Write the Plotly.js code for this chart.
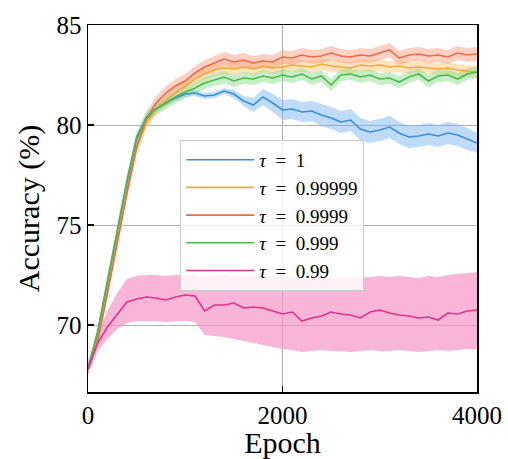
<!DOCTYPE html>
<html>
<head>
<meta charset="utf-8">
<script src="https://cdn.plot.ly/plotly-3.0.1.min.js"></script>
<style>html,body{margin:0;padding:0;background:#fff;}#chart{width:508px;height:459px;}</style>
</head>
<body>
<div id="chart"></div>
<script>
const epochs = [0,100,200,300,400,500,600,700,800,900,1000,1100,1200,1300,1400,1500,1600,1700,1800,1900,2000,2100,2200,2300,2400,2500,2600,2700,2800,2900,3000,3100,3200,3300,3400,3500,3600,3700,3800,3900,4000];

const seriesNames = ["<i>τ</i>\u2002=\u20021", "<i>τ</i>\u2002=\u20020.99999", "<i>τ</i>\u2002=\u20020.9999", "<i>τ</i>\u2002=\u20020.999", "<i>τ</i>\u2002=\u20020.99"];

const tau1 = [67.8,69.6,72.1,74.6,77.1,79.3,80.3,80.8,81.1,81.35,81.55,81.6,81.45,81.5,81.7,81.55,81.2,81.0,81.4,81.1,80.75,80.8,80.65,80.7,80.5,80.35,80.15,80.25,79.8,79.65,79.75,79.9,79.6,79.4,79.45,79.55,79.45,79.6,79.5,79.3,79.1];
const tau1Std = [0.15,0.15,0.15,0.15,0.15,0.15,0.15,0.15,0.15,0.15,0.15,0.15,0.15,0.15,0.15,0.2,0.25,0.35,0.4,0.45,0.5,0.5,0.5,0.5,0.55,0.55,0.55,0.55,0.55,0.55,0.55,0.55,0.55,0.55,0.55,0.55,0.55,0.55,0.55,0.55,0.5];

const tau99999 = [67.8,69.3,71.7,74.2,76.7,78.9,80.1,80.8,81.2,81.6,81.95,82.3,82.55,82.75,82.85,82.8,82.9,82.8,82.95,82.85,82.9,83.0,82.95,82.9,83.05,82.95,82.9,82.85,83.0,82.95,83.0,82.9,82.95,82.85,82.9,82.85,82.8,82.85,82.75,82.7,82.65];
const tau99999Std = [0.2,0.25,0.3,0.3,0.3,0.3,0.3,0.3,0.3,0.3,0.3,0.3,0.3,0.3,0.3,0.3,0.3,0.3,0.3,0.3,0.3,0.3,0.3,0.3,0.3,0.3,0.3,0.3,0.3,0.3,0.3,0.3,0.3,0.3,0.3,0.3,0.3,0.3,0.3,0.3,0.3];

const tau9999 = [67.8,69.2,71.6,74.1,76.6,78.9,80.3,81.1,81.6,81.95,82.2,82.6,82.9,83.1,83.3,83.15,83.25,83.1,83.2,83.15,83.4,83.35,83.5,83.4,83.45,83.6,83.45,83.4,83.5,83.45,83.6,83.75,83.35,83.5,83.55,83.45,83.5,83.4,83.6,83.5,83.55];
const tau9999Std = [0.2,0.25,0.3,0.3,0.3,0.3,0.3,0.35,0.35,0.35,0.35,0.35,0.35,0.35,0.35,0.35,0.35,0.35,0.35,0.35,0.35,0.35,0.35,0.35,0.35,0.35,0.35,0.35,0.35,0.35,0.35,0.35,0.35,0.35,0.35,0.35,0.35,0.35,0.35,0.35,0.35];

const tau999 = [67.8,69.7,72.2,74.7,77.2,79.4,80.4,80.8,81.1,81.4,81.65,81.85,82.1,82.25,82.4,82.2,82.35,82.3,82.45,82.35,82.5,82.4,82.55,82.3,82.45,82.0,82.5,82.55,82.4,82.5,82.3,82.35,82.15,82.4,82.55,82.2,82.45,82.5,82.3,82.55,82.65];
const tau999Std = [0.2,0.25,0.3,0.3,0.3,0.3,0.3,0.3,0.3,0.3,0.3,0.3,0.3,0.3,0.3,0.3,0.3,0.3,0.3,0.3,0.3,0.3,0.3,0.3,0.3,0.3,0.3,0.3,0.3,0.3,0.3,0.3,0.3,0.3,0.3,0.3,0.3,0.3,0.3,0.3,0.3];

const tau99 = [67.8,69.1,69.9,70.5,71.15,71.3,71.4,71.35,71.25,71.4,71.5,71.45,70.7,71.0,71.0,71.1,70.85,70.9,70.85,70.7,70.55,70.65,70.2,70.35,70.45,70.65,70.55,70.5,70.35,70.65,70.75,70.6,70.5,70.45,70.35,70.4,70.25,70.6,70.55,70.7,70.75];
const tau99Upper = [68.2,69.6,70.7,71.6,72.3,72.45,72.5,72.5,72.45,72.5,72.5,72.5,72.4,72.45,72.5,72.45,72.4,72.45,72.4,72.35,72.4,72.35,72.3,72.25,72.3,72.3,72.35,72.4,72.35,72.4,72.45,72.4,72.45,72.4,72.35,72.45,72.4,72.5,72.55,72.6,72.65];
const tau99Lower = [67.5,68.7,69.3,69.8,70.1,70.2,70.2,70.2,70.15,70.2,70.2,70.15,69.5,69.45,69.4,69.3,69.2,69.1,69.0,68.9,68.8,68.75,68.65,68.7,68.75,68.7,68.7,68.65,68.7,68.75,68.7,68.7,68.75,68.7,68.65,68.7,68.75,68.7,68.75,68.8,68.8];

const lineColors = ["#3a8ee0", "#f2a93b", "#ef6a45", "#4cb84c", "#e2328a"];
const bandColors = ["rgba(110,175,240,0.45)", "rgba(255,195,110,0.45)", "rgba(250,150,125,0.45)", "rgba(130,220,130,0.45)", "rgba(246,150,198,0.7)"];

function band(upper, lower, color) {
  return {
    x: epochs.concat(epochs.slice().reverse()),
    y: upper.concat(lower.slice().reverse()),
    fill: 'toself', fillcolor: color, line: {width: 0, color: 'rgba(0,0,0,0)'},
    mode: 'lines', showlegend: false, hoverinfo: 'skip', type: 'scatter'
  };
}
function plus(m, s, k) { return m.map((v, i) => v + k * s[i]); }

const means = [tau1, tau99999, tau9999, tau999, tau99];
const stds = [tau1Std, tau99999Std, tau9999Std, tau999Std, null];
const traces = [];
for (let i = 0; i < 5; i++) {
  if (i < 4) traces.push(band(plus(means[i], stds[i], 1), plus(means[i], stds[i], -1), bandColors[i]));
  else traces.push(band(tau99Upper, tau99Lower, bandColors[i]));
}
for (let i = 0; i < 5; i++) {
  traces.push({x: epochs, y: means[i], mode: 'lines', name: seriesNames[i], type: 'scatter',
    line: {color: lineColors[i], width: 1.6}});
}

const font = "'Liberation Serif', 'Times New Roman', serif";
const layout = {
  width: 508, height: 459,
  margin: {l: 88, r: 31, t: 25, b: 67},
  paper_bgcolor: '#fff', plot_bgcolor: '#fff',
  font: {family: font, color: '#000', size: 20},
  showlegend: true,
  xaxis: {
    range: [0, 4000], tickvals: [0, 2000, 4000], ticktext: ['0', '2000', '4000'],
    ticks: 'inside', ticklen: 6, tickwidth: 1.2, tickcolor: '#000',
    showline: true, linecolor: '#000', linewidth: 1.5, mirror: true,
    showgrid: true, gridcolor: '#b0b0b0', gridwidth: 1, zeroline: false,
    tickfont: {family: font, size: 25, color: '#000'},
    title: {text: 'Epoch', font: {family: font, size: 30, color: '#000'}, standoff: 2}
  },
  yaxis: {
    range: [66.65, 85], tickvals: [70, 75, 80, 85], ticktext: ['70', '75', '80', '85'],
    ticks: 'inside', ticklen: 6, tickwidth: 1.2, tickcolor: '#000',
    showline: true, linecolor: '#000', linewidth: 1.5, mirror: true,
    showgrid: true, gridcolor: '#b0b0b0', gridwidth: 1, zeroline: false,
    tickfont: {family: font, size: 25, color: '#000'},
    title: {text: 'Accuracy (%)', font: {family: font, size: 30, color: '#000'}, standoff: 8}
  },
  legend: {
    x: 0.237, y: 0.687, xanchor: 'left', yanchor: 'top',
    bgcolor: 'rgba(255,255,255,0.8)', bordercolor: '#cccccc', borderwidth: 1,
    font: {family: font, size: 19, color: '#000'},
    itemwidth: 68, tracegroupgap: 0
  }
};

Plotly.newPlot('chart', traces, layout, {displayModeBar: false, staticPlot: true});
</script>
</body>
</html>
